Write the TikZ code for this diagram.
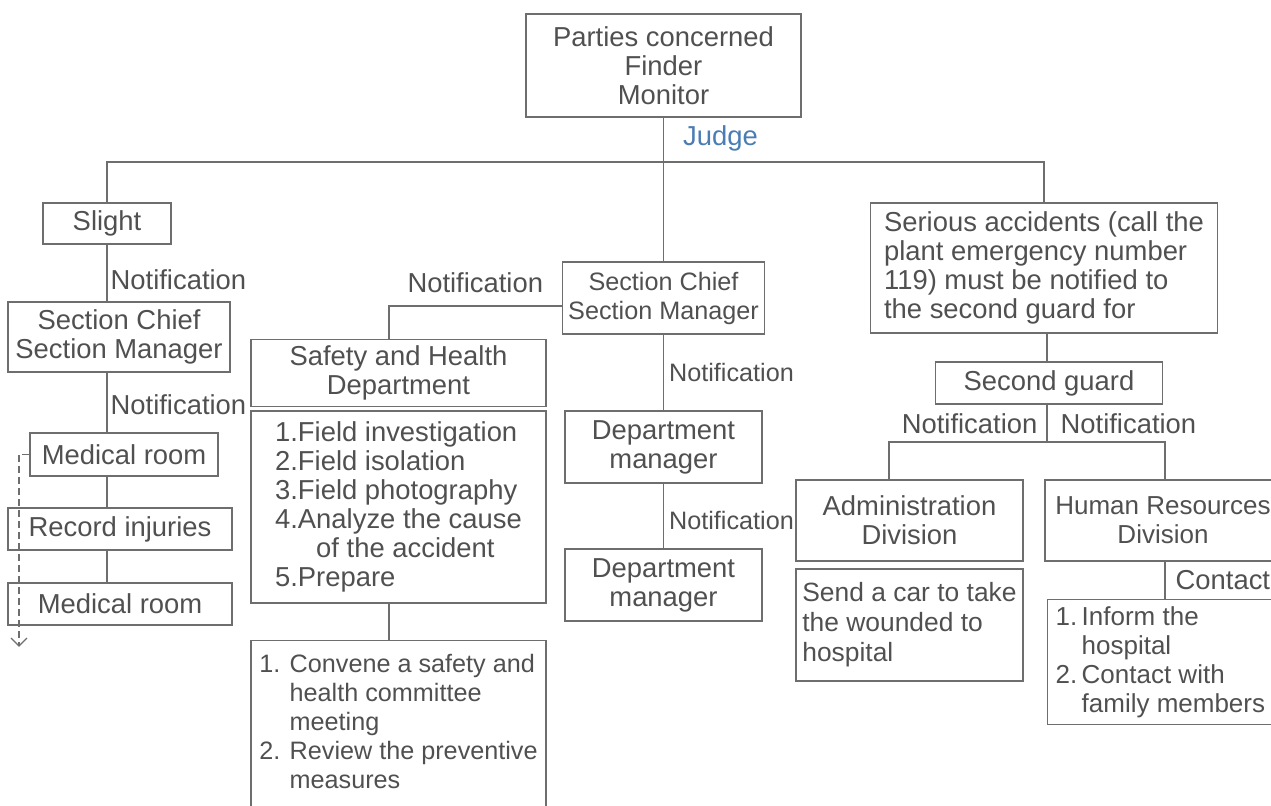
\documentclass[tikz,border=0pt]{standalone}
\usepackage{fontspec}
\setmainfont{Liberation Sans}
\usetikzlibrary{arrows.meta, positioning}
\definecolor{linegray}{HTML}{6E6E6E}
\definecolor{textgray}{HTML}{505050}
\definecolor{judgeblue}{HTML}{4A7DB4}
\tikzset{
    basebox/.style={rectangle, draw=linegray, line width=0.65pt, text=textgray, font=\fontsize{13.7}{14.5}\selectfont, align=center, inner sep=3pt},
    listbox/.style={basebox, align=left},
    narrow/.style={font=\fontsize{12.6}{14.5}\selectfont},
    link/.style={draw=linegray, line width=0.65pt},
    lbl/.style={text=textgray, font=\fontsize{13.7}{14.5}\selectfont, inner sep=1.5pt},
    dashflow/.style={link, dash pattern=on 3.5pt off 2pt, -{Straight Barb[length=4pt,width=8pt]}}
}
\begin{document}
\begin{tikzpicture}[x=0.5pt, y=-0.5pt]
    \clip (0,0) rectangle (1271,806);
    % Nodes
    \node (top) [basebox, minimum width=137.5pt, minimum height=51.5pt] at (663.5,65.5) {Parties concerned\\Finder\\Monitor};

    \node (slight) [basebox, minimum width=64pt, minimum height=20.5pt] at (107,223.5) {Slight};
    \node (scL) [basebox, minimum width=111pt, minimum height=35pt] at (119,337) {Section Chief\\Section Manager};
    \node (med1) [basebox, minimum width=94pt, minimum height=21.5pt] at (124,454.5) {Medical room};
    \node (rec) [basebox, minimum width=112pt, minimum height=21pt] at (120,529) {Record injuries};
    \node (med2) [basebox, minimum width=112pt, minimum height=21pt] at (120,604) {Medical room};

    \node (scM) [basebox, narrow, minimum width=98.5pt, minimum height=36pt] at (663.5,298) {Section Chief\\Section Manager};
    \node (safety) [basebox, minimum width=147.5pt, minimum height=32pt] at (398.5,373) {Safety and Health\\Department};
    \node (tasks) [listbox, minimum width=147.5pt, minimum height=96pt] at (398.5,507) {1.Field investigation\\2.Field isolation\\3.Field photography\\4.Analyze the cause\\\hphantom{4.A}of the accident\\5.Prepare};
    \node (meet) [listbox, narrow, minimum width=147.5pt, minimum height=90pt, inner ysep=7pt, anchor=north] at (398.5,640) {1. Convene a safety and\\\hphantom{1. }health committee\\\hphantom{1. }meeting\\2. Review the preventive\\\hphantom{2. }measures\\[40pt]};
    \node (dm1) [basebox, minimum width=98.5pt, minimum height=36pt] at (663.5,447) {Department\\manager};
    \node (dm2) [basebox, minimum width=98.5pt, minimum height=36pt] at (663.5,585) {Department\\manager};

    \node (serious) [listbox, minimum width=173.5pt, minimum height=65pt] at (1044,268) {Serious accidents (call the\\plant emergency number\\119) must be notified to\\the second guard for};
    \node (guard) [basebox, minimum width=113.5pt, minimum height=21pt] at (1049,383) {Second guard};
    \node (admin) [basebox, minimum width=113.5pt, minimum height=40.5pt] at (909.5,520.5) {Administration\\Division};
    \node (car) [listbox, font=\fontsize{13.2}{15}\selectfont, minimum width=113.5pt, minimum height=56pt] at (909.5,625) {Send a car to take\\the wounded to\\hospital};
    \node (hr) [basebox, font=\fontsize{13}{14.5}\selectfont, minimum width=118pt, minimum height=40.5pt] at (1163,520.5) {Human Resources\\Division};
    \node (hrlist) [listbox, font=\fontsize{13}{14.5}\selectfont, inner xsep=4pt, minimum height=62.5pt, anchor=north west] at (1047,599) {1.\,Inform the\\\hphantom{1.\,}hospital\\2.\,Contact with\\\hphantom{2.\,}family members};

    \coordinate (jn) at (663.5,162);
    \coordinate (sbr) at (389,306);
    \coordinate (gj) at (1047,442);
    \coordinate (al) at (889,442);
    \coordinate (hl) at (1165,442);
    \coordinate (dashend) at (19,647);

    % Connectors
    \draw [link] (top.south) -- node[lbl, pos=0.145, right, xshift=8pt, text=judgeblue] {Judge} (scM.north);
    \draw [link] (slight.north) |- (jn) -| (serious.north);

    \draw [link] (slight.south) -- node[lbl, pos=0.62, right] {Notification} (slight.south |- scL.north);
    \draw [link] (scL.south -| slight) -- node[lbl, pos=0.54, right] {Notification} (med1.north -| slight);
    \draw [link] (med1.south -| slight) -- (rec.north -| slight);
    \draw [link] (rec.south -| slight) -- (med2.north -| slight);
    \draw [dashflow] (med1.west) -| (dashend);

    \draw [link] (scM.west |- sbr) -- node[lbl, above, yshift=5pt] {Notification} (sbr) -- (sbr |- safety.north);
    \draw [link] (tasks.south -| sbr) -- (meet.north -| sbr);
    \draw [link] (scM.south) -- node[lbl, narrow, pos=0.5, right, xshift=1pt] {Notification} (dm1.north);
    \draw [link] (dm1.south) -- node[lbl, narrow, pos=0.57, right, xshift=1pt] {Notification} (dm2.north);

    \draw [link] (serious.south -| gj) -- (guard.north -| gj);
    \draw [link] (guard.south -| gj) -- node[lbl, pos=0.5, left, xshift=-3pt] {Notification} node[lbl, pos=0.5, right, xshift=5pt] {Notification} (gj);
    \draw [link] (al |- admin.north) -- (al) -- (hl) -- (hl |- hr.north);
    \draw [link] (hr.south -| hl) -- node[lbl, pos=0.5, right, xshift=3.5pt] {Contact} (hrlist.north -| hl);
\end{tikzpicture}
\end{document}
